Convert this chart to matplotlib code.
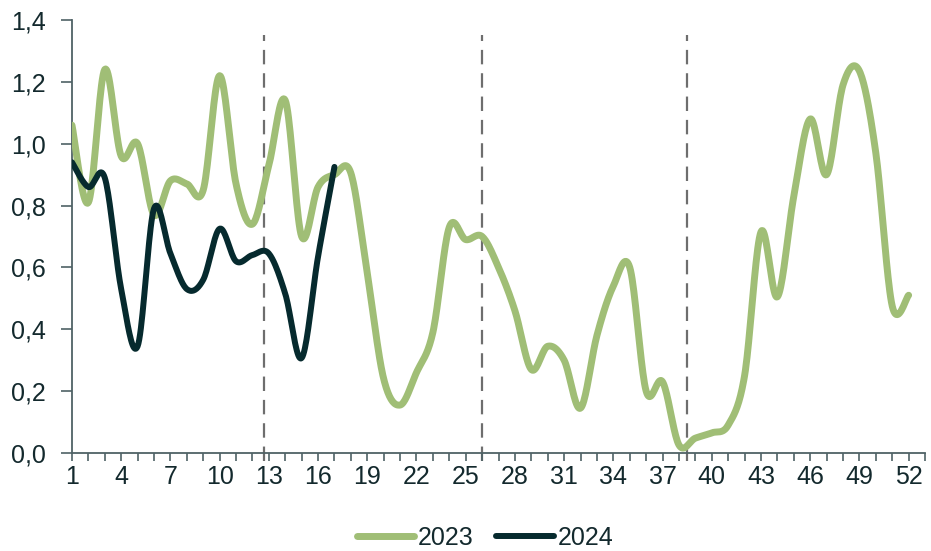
import matplotlib
matplotlib.use("Agg")
import matplotlib.pyplot as plt
import numpy as np

plt.rcParams['font.family'] = ['Liberation Sans', 'DejaVu Sans']

# weekly values
weeks_2023 = list(range(1, 53))
vals_2023 = [1.06, 0.81, 1.24, 0.96, 1.00, 0.77, 0.88, 0.87, 0.85, 1.22,
             0.87, 0.74, 0.93, 1.14, 0.70, 0.86, 0.90, 0.905, 0.58, 0.24,
             0.155, 0.26, 0.39, 0.73, 0.69, 0.70, 0.60, 0.46, 0.27, 0.345,
             0.30, 0.145, 0.38, 0.54, 0.60, 0.20, 0.23, 0.026, 0.048, 0.065,
             0.09, 0.25, 0.715, 0.505, 0.83, 1.08, 0.90, 1.19, 1.235, 0.97,
             0.475, 0.51]
weeks_2024 = list(range(1, 18))
vals_2024 = [0.94, 0.86, 0.89, 0.53, 0.345, 0.79, 0.645, 0.53, 0.56, 0.725,
             0.62, 0.64, 0.645, 0.515, 0.307, 0.635, 0.925]
quarter_marks = [12.7, 26, 38.5]
xtick_labels = [str(w) for w in range(1, 53, 3)]

GREEN = '#A0BE76'
DARK = '#062A2E'
TEXT = '#13292D'
AXIS = '#4F6266'


def smooth(x, y, n=20):
    # Catmull-Rom style smoothing like Excel's "smoothed line"
    x = np.asarray(x, float)
    y = np.asarray(y, float)
    px = np.concatenate([[x[0]], x, [x[-1]]])
    py = np.concatenate([[y[0]], y, [y[-1]]])
    xs, ys = [], []
    t = np.linspace(0, 1, n, endpoint=False)
    for i in range(1, len(px) - 2):
        p0x, p1x, p2x, p3x = px[i - 1], px[i], px[i + 1], px[i + 2]
        p0y, p1y, p2y, p3y = py[i - 1], py[i], py[i + 1], py[i + 2]
        c1x = p1x + (p2x - p0x) / 6
        c1y = p1y + (p2y - p0y) / 6
        c2x = p2x - (p3x - p1x) / 6
        c2y = p2y - (p3y - p1y) / 6
        b = [(1 - t) ** 3, 3 * (1 - t) ** 2 * t, 3 * (1 - t) * t ** 2, t ** 3]
        xs.append(b[0] * p1x + b[1] * c1x + b[2] * c2x + b[3] * p2x)
        ys.append(b[0] * p1y + b[1] * c1y + b[2] * c2y + b[3] * p2y)
    xs.append([x[-1]])
    ys.append([y[-1]])
    return np.concatenate(xs), np.concatenate(ys)


fig = plt.figure(figsize=(9.31, 5.51), dpi=100)
ax = fig.add_axes([0.0773, 0.1779, 0.9163, 0.7858])

for xm in quarter_marks:
    ax.plot([xm, xm], [-0.027, 1.35], color='#6E6E6E', lw=1.6,
            dashes=(6.5, 4), clip_on=False, zorder=1)

sx, sy = smooth(weeks_2023, vals_2023)
ax.plot(sx, sy, color=GREEN, lw=5, solid_capstyle='round', label='2023', zorder=3)
sx, sy = smooth(weeks_2024, vals_2024)
ax.plot(sx, sy, color=DARK, lw=4.3, solid_capstyle='round', label='2024', zorder=4)

ax.set_xlim(1, 53)
ax.set_ylim(0, 1.4)
ax.set_xticks(range(1, 53, 3))
ax.set_xticklabels(xtick_labels)
ax.set_xticks(range(1, 54), minor=True)
ax.set_yticks(np.arange(0, 1.41, 0.2))
ax.set_yticklabels([f"{v:.1f}".replace('.', ',') for v in np.arange(0, 1.41, 0.2)])

for s in ['top', 'right']:
    ax.spines[s].set_visible(False)
for s in ['left', 'bottom']:
    ax.spines[s].set_color(AXIS)
    ax.spines[s].set_linewidth(1.3)

ax.tick_params(axis='x', which='both', direction='out', length=6, width=1.2,
               color=AXIS, labelsize=18, labelcolor=TEXT, pad=3)
ax.tick_params(axis='y', direction='out', length=8, width=1.2,
               color=AXIS, labelsize=18, labelcolor=TEXT, pad=11)

leg = ax.legend(loc='center', bbox_to_anchor=(0.484, -0.196), ncol=2,
                frameon=False, fontsize=18, handlelength=2.3, handletextpad=0.15,
                columnspacing=0.9)
for t in leg.get_texts():
    t.set_color(TEXT)

fig.savefig('out.png', dpi=100)
